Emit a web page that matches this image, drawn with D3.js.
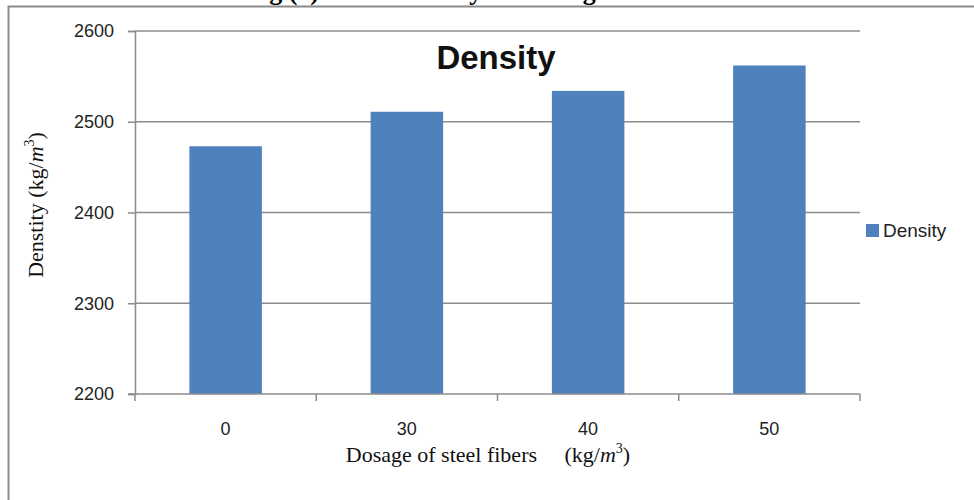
<!DOCTYPE html>
<html>
<head>
<meta charset="utf-8">
<script src="https://cdn.jsdelivr.net/npm/d3@7/dist/d3.min.js"></script>
<style>
  body { margin: 0; background: #fff; }
  svg { display: block; }
  .tick text { font-family: "Liberation Sans", Arial, sans-serif; font-size: 18px; fill: #222; }
</style>
</head>
<body>
<svg id="chart" width="974" height="500"></svg>
<script>
// data
var dosages = ["0", "30", "40", "50"];
var density = [2473, 2511, 2534, 2562];
var yTicks = [2200, 2300, 2400, 2500, 2600];
var seriesName = "Density";

var W = 974, H = 500;
var plotL = 135, plotR = 860, plotT = 31, plotB = 394;
var barColor = "#4f81bd", gridColor = "#8c8c8c";

var svg = d3.select("#chart");

// frame of the cropped figure + cut caption at the top
svg.append("path")
    .attr("d", "M8.5," + H + "V6.5H" + W)
    .attr("fill", "none")
    .attr("stroke", "#8a8a8a")
    .attr("stroke-width", 2);

svg.append("text")
    .attr("x", 482).attr("y", -0.5)
    .attr("text-anchor", "middle")
    .style("font-family", "'Liberation Serif', 'Times New Roman', serif")
    .style("font-weight", "bold")
    .style("font-size", "26px")
    .text("Fig (4): Mass Density for Dosage Variation");

var x = d3.scaleBand().domain(dosages).range([plotL, plotR])
    .paddingInner(0.6).paddingOuter(0.3);
var xSlot = d3.scaleBand().domain(dosages).range([plotL, plotR]).padding(0);
var y = d3.scaleLinear().domain([2200, 2600]).range([plotB, plotT]);

// gridlines
svg.append("g")
    .selectAll("line")
    .data(yTicks.slice(1))
    .enter().append("line")
    .attr("x1", plotL).attr("x2", plotR)
    .attr("y1", function (d) { return y(d); })
    .attr("y2", function (d) { return y(d); })
    .attr("stroke", gridColor)
    .attr("stroke-width", 1.5);

// bars
svg.append("g")
    .selectAll("rect")
    .data(density)
    .enter().append("rect")
    .attr("x", function (d, i) { return x(dosages[i]); })
    .attr("width", x.bandwidth())
    .attr("y", function (d) { return y(d); })
    .attr("height", function (d) { return y(2200) - y(d); })
    .attr("fill", barColor);

// y axis
var yAxis = svg.append("g")
    .attr("transform", "translate(" + plotL + ",0)")
    .call(d3.axisLeft(y).tickValues(yTicks).tickSize(7).tickPadding(14).tickFormat(d3.format("d")));
yAxis.select(".domain").attr("stroke", gridColor).attr("stroke-width", 1.5);
yAxis.selectAll(".tick line").attr("stroke", gridColor).attr("stroke-width", 1.5);

// x axis: line, boundary ticks, labels
svg.append("line")
    .attr("x1", plotL - 7).attr("x2", plotR)
    .attr("y1", plotB).attr("y2", plotB)
    .attr("stroke", gridColor).attr("stroke-width", 1.5);

var bounds = dosages.map(function (d) { return xSlot(d); }).concat([plotR]);
svg.append("g")
    .selectAll("line")
    .data(bounds)
    .enter().append("line")
    .attr("x1", function (d) { return d; }).attr("x2", function (d) { return d; })
    .attr("y1", plotB).attr("y2", plotB + 7)
    .attr("stroke", gridColor).attr("stroke-width", 1.5);

svg.append("g")
    .selectAll("text")
    .data(dosages)
    .enter().append("text")
    .attr("x", function (d) { return xSlot(d) + xSlot.bandwidth() / 2; })
    .attr("y", 435)
    .attr("text-anchor", "middle")
    .style("font-family", "'Liberation Sans', Arial, sans-serif")
    .style("font-size", "18px")
    .style("fill", "#222")
    .text(function (d) { return d; });

// chart title
svg.append("text")
    .attr("x", 496).attr("y", 69)
    .attr("text-anchor", "middle")
    .style("font-family", "'Liberation Sans', Arial, sans-serif")
    .style("font-weight", "bold")
    .style("font-size", "33px")
    .style("fill", "#111")
    .text("Density");

// axis titles
var serif = "'Liberation Serif', 'Times New Roman', serif";

var xt = svg.append("text")
    .attr("x", 488).attr("y", 462)
    .attr("text-anchor", "middle")
    .style("font-family", serif)
    .style("font-size", "22px")
    .style("fill", "#111");
xt.append("tspan").text("Dosage of steel fibers\u00a0\u00a0\u00a0\u00a0\u00a0(kg/");
xt.append("tspan").style("font-style", "italic").text("m");
xt.append("tspan").attr("dy", -9).style("font-size", "14px").text("3");
xt.append("tspan").attr("dy", 9).text(")");

var yt = svg.append("text")
    .attr("transform", "translate(43,205) rotate(-90)")
    .attr("text-anchor", "middle")
    .style("font-family", serif)
    .style("font-size", "22px")
    .style("fill", "#111");
yt.append("tspan").text("Denstity (kg/");
yt.append("tspan").style("font-style", "italic").text("m");
yt.append("tspan").attr("dy", -9).style("font-size", "14px").text("3");
yt.append("tspan").attr("dy", 9).text(")");

// legend
var lg = svg.append("g").attr("transform", "translate(866,224)");
lg.append("rect").attr("width", 13).attr("height", 13).attr("fill", barColor);
lg.append("text")
    .attr("x", 17).attr("y", 13)
    .style("font-family", "'Liberation Sans', Arial, sans-serif")
    .style("font-size", "19px")
    .style("fill", "#222")
    .text(seriesName);
</script>
</body>
</html>
